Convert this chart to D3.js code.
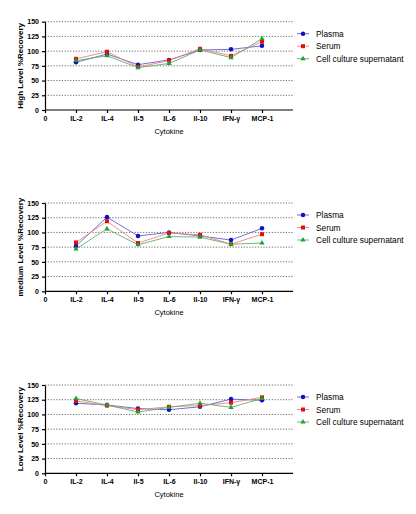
<!DOCTYPE html><html><head><meta charset="utf-8"><script src="https://d3js.org/d3.v7.min.js"></script>
<style>body{margin:0;background:#fff}text{font-family:"Liberation Sans",Arial,sans-serif}</style></head><body>
<svg id="c" width="416" height="514"></svg>
<script>
const categories=["IL-2","IL-4","Il-5","IL-6","Il-10","IFN-γ","MCP-1"];
const seriesNames=["Plasma","Serum","Cell culture supernatant"];
const yTicks=[0,25,50,75,100,125,150];
const highPlasma=[81,95,77,85,102,103,109];
const highSerum=[87,99,73,84,104,92,116];
const highCell=[84,92,72,79,102,89,121];
const medPlasma=[77,126,94,100,94,87,107];
const medSerum=[83,119,82,99,96,80,97];
const medCell=[72,106,79,93,92,80,82];
const lowPlasma=[119,116,110,108,113,126,124];
const lowSerum=[123,115,108,113,115,120,129];
const lowCell=[127,116,104,112,119,112,127];
const panels=[
 {title:"High Level %Recovery",top:21.7,data:[highPlasma,highSerum,highCell]},
 {title:"medium Level %Recovery",top:203,data:[medPlasma,medSerum,medCell]},
 {title:"Low Level %Recovery",top:385,data:[lowPlasma,lowSerum,lowCell]}];
const colors=["#1010c0","#e01010","#20a030"];
const lineColors=["#6060d0","#f08080","#60b070"];
const svg=d3.select("#c");
const x=d3.scaleLinear().domain([0,8]).range([45,293]);
panels.forEach(p=>{
 const y=d3.scaleLinear().domain([0,150]).range([p.top+88.3,p.top]);
 const g=svg.append("g");
 g.selectAll(".grid").data(yTicks.slice(1)).join("line").attr("x1",45).attr("x2",293)
  .attr("y1",d=>y(d)).attr("y2",d=>y(d)).attr("stroke","#444").attr("stroke-width",0.8).attr("stroke-dasharray","1.2,1.6");
 const ya=g.append("g").attr("transform","translate(45,0)").call(d3.axisLeft(y).tickValues(yTicks).tickSize(3).tickSizeOuter(0));
 const xa=g.append("g").attr("transform",`translate(0,${y(0)})`).call(d3.axisBottom(x).tickValues([0,1,2,3,4,5,6,7]).tickFormat(d=>d===0?"0":categories[d-1]).tickSize(3).tickSizeOuter(0));
 [ya,xa].forEach(a=>{a.selectAll("path,line").attr("stroke","#000").attr("stroke-width",1.2);a.selectAll("text").attr("font-size",7).attr("font-weight","bold").attr("fill","#000");});
 xa.select(".domain").attr("d",`M45,0H293`);
 g.append("text").attr("x",169).attr("y",y(0)+24).attr("text-anchor","middle").attr("font-size",7.5).text("Cytokine");
 g.append("text").attr("transform",`translate(23,${y(75)}) rotate(-90)`).attr("text-anchor","middle").attr("font-size",8).attr("font-weight","bold").text(p.title);
 p.data.forEach((vals,si)=>{
  const line=d3.line().x((d,i)=>x(i+1)).y(d=>y(d));
  g.append("path").attr("d",line(vals)).attr("fill","none").attr("stroke",lineColors[si]).attr("stroke-width",0.9);
 });
 p.data.forEach((vals,si)=>{
  const sym=[d3.symbolCircle,d3.symbolSquare,d3.symbolTriangle][si];
  const size=[16,16,12][si];
  g.selectAll(".m"+si).data(vals).join("path").attr("transform",(d,i)=>`translate(${x(i+1)},${y(d)})`)
   .attr("d",d3.symbol(sym,size)).attr("fill",colors[si]);
 });
 seriesNames.forEach((n,si)=>{
  const ly=p.top+12+si*12.5;
  g.append("line").attr("x1",297).attr("x2",309).attr("y1",ly).attr("y2",ly).attr("stroke",lineColors[si]).attr("stroke-width",0.9);
  g.append("path").attr("transform",`translate(303,${ly})`).attr("d",d3.symbol([d3.symbolCircle,d3.symbolSquare,d3.symbolTriangle][si],[16,16,12][si])).attr("fill",colors[si]);
  g.append("text").attr("x",316).attr("y",ly+3).attr("font-size",8.3).text(n);
 });
});
</script></body></html>
